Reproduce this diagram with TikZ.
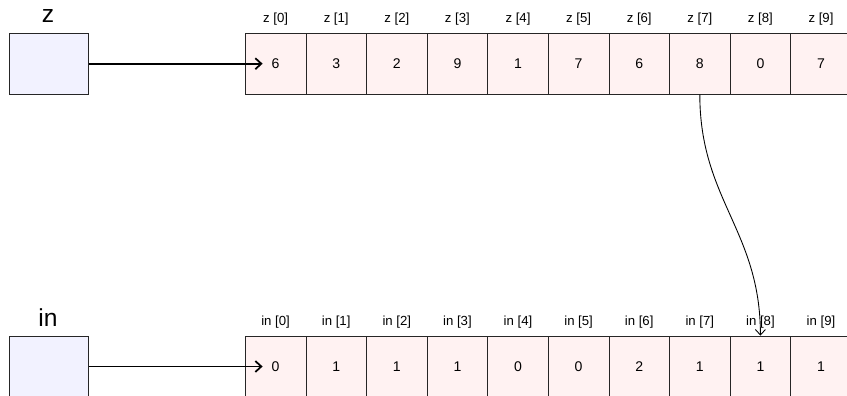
\documentclass[tikz,border=0pt]{standalone}
\usepackage{fontspec}
\setmainfont{Liberation Sans}
\usetikzlibrary{arrows.meta,positioning,calc}

\begin{document}
\begin{tikzpicture}[x=0.02cm,y=-0.02cm,
  cell/.style={draw=black!85,fill=red!5,minimum width=1.212cm,minimum height=1.22cm,inner sep=0pt,font=\fontsize{8}{9}\selectfont},
  vbox/.style={draw=black!85,fill=blue!5,minimum width=1.58cm,minimum height=1.22cm,inner sep=0pt},
  idx/.style={inner sep=0pt,font=\fontsize{7.5}{9}\selectfont},
  vname/.style={inner sep=0pt,font=\fontsize{14}{16}\selectfont},
  ptr/.style={line width=1pt,-{Straight Barb[length=1.2mm,width=2.2mm]}}]
  \useasboundingbox (0,0) rectangle (847,395);
  \def\Xcell{245.3} % 1つ目のセルの左端
  \def\Wcell{60.6}  % セルの幅
  \def\Ytop{63.7}   % 上の配列の中心
  \def\Ybot{366.5}  % 下の配列の中心
  \node[vbox] (zbox) at (48.7,\Ytop) {}; % 変数z
  \node[vname] (zname) at (48,16) {z};
  \node[vbox] (inbox) at (48.7,\Ybot) {}; % 変数in
  \node[vname] (inname) at (48,318) {in};
  \foreach \v [count=\i from 0] in {6,3,2,9,1,7,6,8,0,7}
    \node[cell] (z\i) at ({\Xcell+(\i+0.5)*\Wcell},\Ytop) {\v}; % 配列z
  \foreach \v [count=\i from 0] in {0,1,1,1,0,0,2,1,1,1}
    \node[cell] (in\i) at ({\Xcell+(\i+0.5)*\Wcell},\Ybot) {\v}; % 配列in
  \foreach \i in {0,...,9} {
    \node[idx,above=0.15cm of z\i] (zl\i) {z [\i]};
    \node[idx,above=0.15cm of in\i] (inl\i) {in [\i]};
  }
  \coordinate (zhead) at ($(z0.center)+(-13,0)$);   % 先頭要素を指す位置
  \coordinate (inhead) at ($(in0.center)+(-13,0)$);
  \draw[ptr] (zbox.east) -- (zhead);
  \draw[ptr] (inbox.east) -- (inhead);
  \draw[line width=0.5pt,-{Straight Barb[length=1.1mm,width=2mm]}] (z7.south) .. controls +(0,105) and +(0,-105) .. (in8.north); % z[7]の値 -> in[8]
\end{tikzpicture}
\end{document}
